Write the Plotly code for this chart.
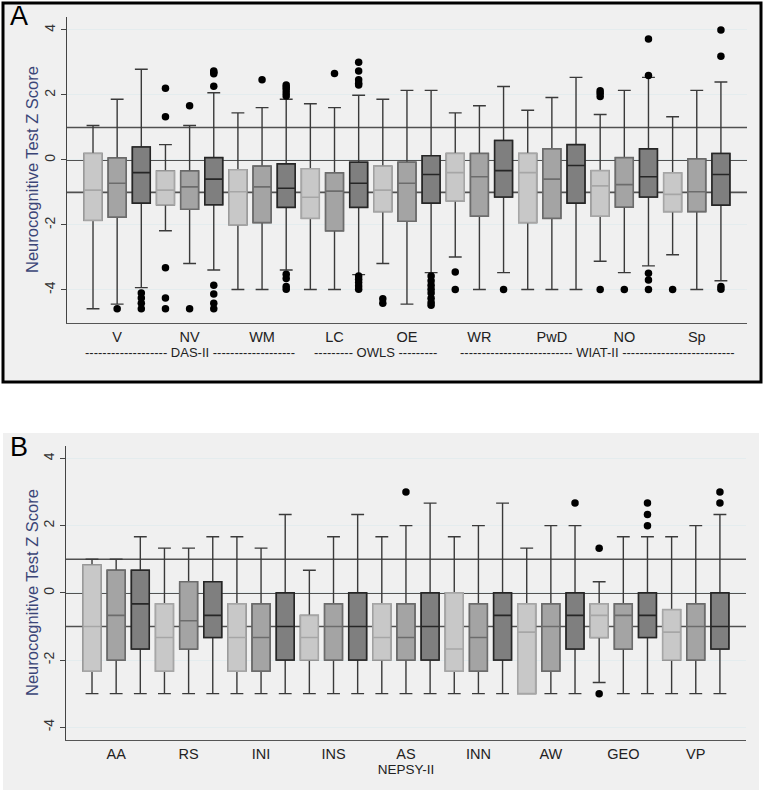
import plotly.graph_objects as go

# ---------------- Panel A data (DAS-II / OWLS / WIAT-II) ----------------
A_groups = ["V", "NV", "WM", "LC", "OE", "WR", "PwD", "NO", "Sp"]
# 27 boxes: for each group light, medium, dark
A_upper = [1.06, 1.87, 2.79,  0.47, 1.06, 2.07,  1.45, 1.61, 1.87,
           1.73, 1.61, 1.99,  1.87, 2.14, 2.14,  1.45, 1.67, 2.26,
           1.53, 1.92, 2.54,  1.40, 2.14, 2.54,  1.33, 2.14, 2.40]
A_q3 = [0.20, 0.06, 0.40,  -0.34, -0.34, 0.07,  -0.30, -0.19, -0.12,
        -0.27, -0.40, -0.07,  -0.19, -0.07, 0.13,  0.20, 0.20, 0.60,
        0.20, 0.34, 0.47,  -0.33, 0.07, 0.34,  -0.40, 0.03, 0.20]
A_median = [-0.93, -0.72, -0.39,  -0.93, -0.83, -0.59,  -0.98, -0.83, -0.87,
            -1.15, -0.96, -0.72,  -0.93, -0.72, -0.45,  -0.39, -0.52, -0.33,
            -0.39, -0.59, -0.17,  -0.80, -0.76, -0.52,  -1.06, -0.98, -0.45]
A_q1 = [-1.86, -1.76, -1.33,  -1.38, -1.52, -1.38,  -2.00, -1.93, -1.46,
        -1.80, -2.18, -1.46,  -1.59, -1.89, -1.33,  -1.26, -1.73, -1.14,
        -1.93, -1.80, -1.33,  -1.73, -1.45, -1.14,  -1.59, -1.59, -1.39]
A_lower = [-4.58, -4.44, -3.93,  -2.18, -3.19, -3.39,  -3.99, -3.99, -3.39,
           -3.99, -3.99, -3.53,  -3.19, -4.44, -3.47,  -2.99, -3.99, -3.47,
           -3.99, -3.99, -3.99,  -3.12, -3.47, -3.26,  -2.92, -3.99, -3.72]
A_outliers = [
    [], [-4.58], [-4.10, -4.25, -4.41, -4.58],
    [2.21, 1.33, -3.32, -4.25, -4.58], [1.67, -4.58],
    [2.74, 2.70, 2.65, 2.27, -3.86, -4.13, -4.41, -4.58],
    [], [2.47], [2.31, 2.24, 2.16, 2.06, 1.97, -3.52, -3.65, -3.90, -3.98],
    [], [2.66], [3.01, 2.74, 2.47, 2.36, 2.31, -3.57, -3.67, -3.77, -3.88, -3.98],
    [-4.27, -4.41], [], [-3.57, -3.72, -3.86, -3.98, -4.10, -4.26, -4.39, -4.47],
    [-3.45, -3.99], [], [-3.99],
    [], [], [],
    [2.13, 2.05, 1.95, -3.99], [-3.99], [3.72, 2.60, -3.49, -3.70, -3.99],
    [-3.99], [], [4.00, 3.19, -3.90, -3.98],
]
A_batteries = ["DAS-II", "OWLS", "WIAT-II"]
A_battery_centers = [5.0, 12.7, 21.9]
A_battery_dashes = [19, 9, 26]

# ---------------- Panel B data (NEPSY-II) ----------------
B_groups = ["AA", "RS", "INI", "INS", "AS", "INN", "AW", "GEO", "VP"]
B_upper = [1.00, 1.00, 1.67,  1.33, 1.33, 1.67,  1.67, 1.33, 2.33,
           0.67, 1.67, 2.33,  1.67, 2.00, 2.67,  1.67, 2.00, 2.67,
           1.33, 2.00, 2.00,  0.33, 1.67, 1.67,  1.67, 2.00, 2.33]
B_q3 = [0.83, 0.67, 0.67,  -0.33, 0.33, 0.33,  -0.33, -0.33, 0.00,
        -0.67, -0.33, 0.00,  -0.33, -0.33, 0.00,  0.00, -0.33, 0.00,
        -0.33, -0.33, 0.00,  -0.33, -0.33, 0.00,  -0.50, -0.33, 0.00]
B_median = [-1.00, -0.67, -0.33,  -1.33, -0.83, -0.67,  -1.33, -1.33, -1.00,
            -1.33, -1.00, -1.00,  -1.33, -1.33, -1.00,  -1.67, -1.33, -0.67,
            -1.17, -1.00, -0.67,  -0.67, -0.67, -0.67,  -1.17, -1.00, -1.00]
B_q1 = [-2.33, -2.00, -1.67,  -2.33, -1.67, -1.33,  -2.33, -2.33, -2.00,
        -2.00, -2.00, -2.00,  -2.00, -2.00, -2.00,  -2.33, -2.33, -2.00,
        -3.00, -2.33, -1.67,  -1.33, -1.67, -1.33,  -2.00, -2.00, -1.67]
B_lower = [-3.00, -3.00, -3.00,  -3.00, -3.00, -3.00,  -3.00, -3.00, -3.00,
           -3.00, -3.00, -3.00,  -3.00, -3.00, -3.00,  -3.00, -3.00, -3.00,
           -3.00, -3.00, -3.00,  -2.67, -3.00, -3.00,  -3.00, -3.00, -3.00]
B_outliers = [
    [], [], [],
    [], [], [],
    [], [], [],
    [], [], [],
    [], [3.00], [],
    [], [], [],
    [], [], [2.67],
    [1.33, -3.00], [], [2.67, 2.33, 2.00],
    [], [], [3.00, 2.67],
]
B_axis_title = "NEPSY-II"
Y_TITLE = "Neurocognitive Test Z Score"

REF_LEVELS = [1, 0, -1]
REF_COLORS = ["#505050", "#1e1e1e", "#505050"]

# ---------------- styling ----------------
FILL = ["#c8c8c8", "#a4a4a4", "#7f7f7f"]
EDGE = ["#a6a6a6", "#6c6c6c", "#262626"]
WHISK = "#3a3a3a"
FONT = "Arial, Liberation Sans, sans-serif"
W, H = 763, 802
BOX_W = 0.74

fig = go.Figure()


def add_panel(xa, ya, upper, q3, med, q1, lower, outl):
    n = len(upper)
    pos = list(range(1, n + 1))
    for s in range(3):
        idx = [i for i in range(n) if i % 3 == s]
        xs = [pos[i] for i in idx]
        # full box incl. whiskers (dark whisker lines)
        fig.add_trace(go.Box(
            x=xs, q1=[q1[i] for i in idx], median=[med[i] for i in idx],
            q3=[q3[i] for i in idx], lowerfence=[lower[i] for i in idx],
            upperfence=[upper[i] for i in idx], width=BOX_W, whiskerwidth=0.72,
            fillcolor=FILL[s], line=dict(color=WHISK, width=1.4),
            boxpoints=False, xaxis=xa, yaxis=ya, showlegend=False, hoverinfo="skip"))
        # box face with its own edge colour
        fig.add_trace(go.Box(
            x=xs, q1=[q1[i] for i in idx], median=[med[i] for i in idx],
            q3=[q3[i] for i in idx], lowerfence=[q1[i] for i in idx],
            upperfence=[q3[i] for i in idx], width=BOX_W, whiskerwidth=0,
            fillcolor=FILL[s], line=dict(color=EDGE[s], width=1.6),
            boxpoints=False, xaxis=xa, yaxis=ya, showlegend=False, hoverinfo="skip"))
    ox, oy = [], []
    for i, vals in enumerate(outl):
        for v in vals:
            ox.append(pos[i])
            oy.append(v)
    fig.add_trace(go.Scatter(x=ox, y=oy, mode="markers", xaxis=xa, yaxis=ya,
                             marker=dict(color="black", size=7.5),
                             showlegend=False, hoverinfo="skip"))


add_panel("x", "y", A_upper, A_q3, A_median, A_q1, A_lower, A_outliers)
add_panel("x2", "y2", B_upper, B_q3, B_median, B_q1, B_lower, B_outliers)


def px_x(p):
    return p / W


def px_y(p):
    return 1 - p / H


yaxis_common = dict(
    tickvals=[-4, -2, 0, 2, 4], ticktext=["-4", "-2", "0", "2", "4"],
    tickangle=-90, ticks="outside", ticklen=5, tickcolor="#444", tickwidth=1,
    showline=True, linecolor="#444", linewidth=1.2,
    showgrid=True, gridcolor="#e4ecee", gridwidth=1, zeroline=False,
    tickfont=dict(family=FONT, size=14, color="#333"),
)
xaxis_common = dict(
    showline=True, linecolor="#555", linewidth=1.2, ticks="", showgrid=False,
    zeroline=False, tickfont=dict(family=FONT, size=14.5, color="#222"),
    range=[-0.077, 28.08],
)

fig.update_layout(
    width=W, height=H, margin=dict(l=0, r=0, t=0, b=0),
    paper_bgcolor="white", plot_bgcolor="white", boxmode="overlay",
    xaxis=dict(xaxis_common, domain=[px_x(67), px_x(747)], anchor="y",
               tickvals=[2 + 3 * k for k in range(len(A_groups))], ticktext=A_groups),
    yaxis=dict(yaxis_common, domain=[px_y(323), px_y(17)], anchor="x",
               range=[-5.02, 4.4]),
    xaxis2=dict(xaxis_common, domain=[px_x(66), px_x(746)], anchor="y2",
                tickvals=[2 + 3 * k for k in range(len(B_groups))], ticktext=B_groups,
                title=dict(text=B_axis_title, font=dict(family=FONT, size=13.5, color="#222"),
                           standoff=4)),
    yaxis2=dict(yaxis_common, domain=[px_y(740), px_y(446)], anchor="x2",
                range=[-4.38, 4.37]),
)

# panel backgrounds
fig.add_shape(type="rect", xref="paper", yref="paper", layer="below",
              x0=px_x(3), x1=px_x(761), y0=px_y(382), y1=px_y(3),
              fillcolor="#f0f0f0", line=dict(color="black", width=3))
fig.add_shape(type="rect", xref="paper", yref="paper", layer="below",
              x0=px_x(3), x1=px_x(759), y0=px_y(790), y1=px_y(433),
              fillcolor="#f0f0f0", line=dict(width=0))

# reference lines at z = 1, 0, -1
for xr, yr in (("x domain", "y"), ("x2 domain", "y2")):
    for lv, c in zip(REF_LEVELS, REF_COLORS):
        fig.add_shape(type="line", xref=xr, yref=yr, x0=0, x1=1, y0=lv, y1=lv,
                      layer="below", line=dict(color=c, width=1.6))

# y-axis titles (rotated)
for yc in (170, 593):
    fig.add_annotation(x=px_x(32), y=px_y(yc), xref="paper", yref="paper",
                       text=Y_TITLE, textangle=-90, showarrow=False,
                       xanchor="center", yanchor="middle",
                       font=dict(family=FONT, size=16.5, color="#3b4577"))

# battery labels for panel A
for name, cx, nd in zip(A_batteries, A_battery_centers, A_battery_dashes):
    d = "-" * nd
    fig.add_annotation(x=cx, xref="x", y=px_y(352), yref="paper",
                       text=f"{d} {name} {d}", showarrow=False,
                       font=dict(family=FONT, size=13, color="#222"))

# panel letters
for letter, yy in (("A", 16), ("B", 447)):
    fig.add_annotation(x=px_x(8), y=px_y(yy), xref="paper", yref="paper",
                       xanchor="left", yanchor="middle", text=letter, showarrow=False,
                       font=dict(family=FONT, size=27, color="black"))

fig.write_html("out.html", config={"displayModeBar": False},
               post_script="document.body.style.margin='0px';")
